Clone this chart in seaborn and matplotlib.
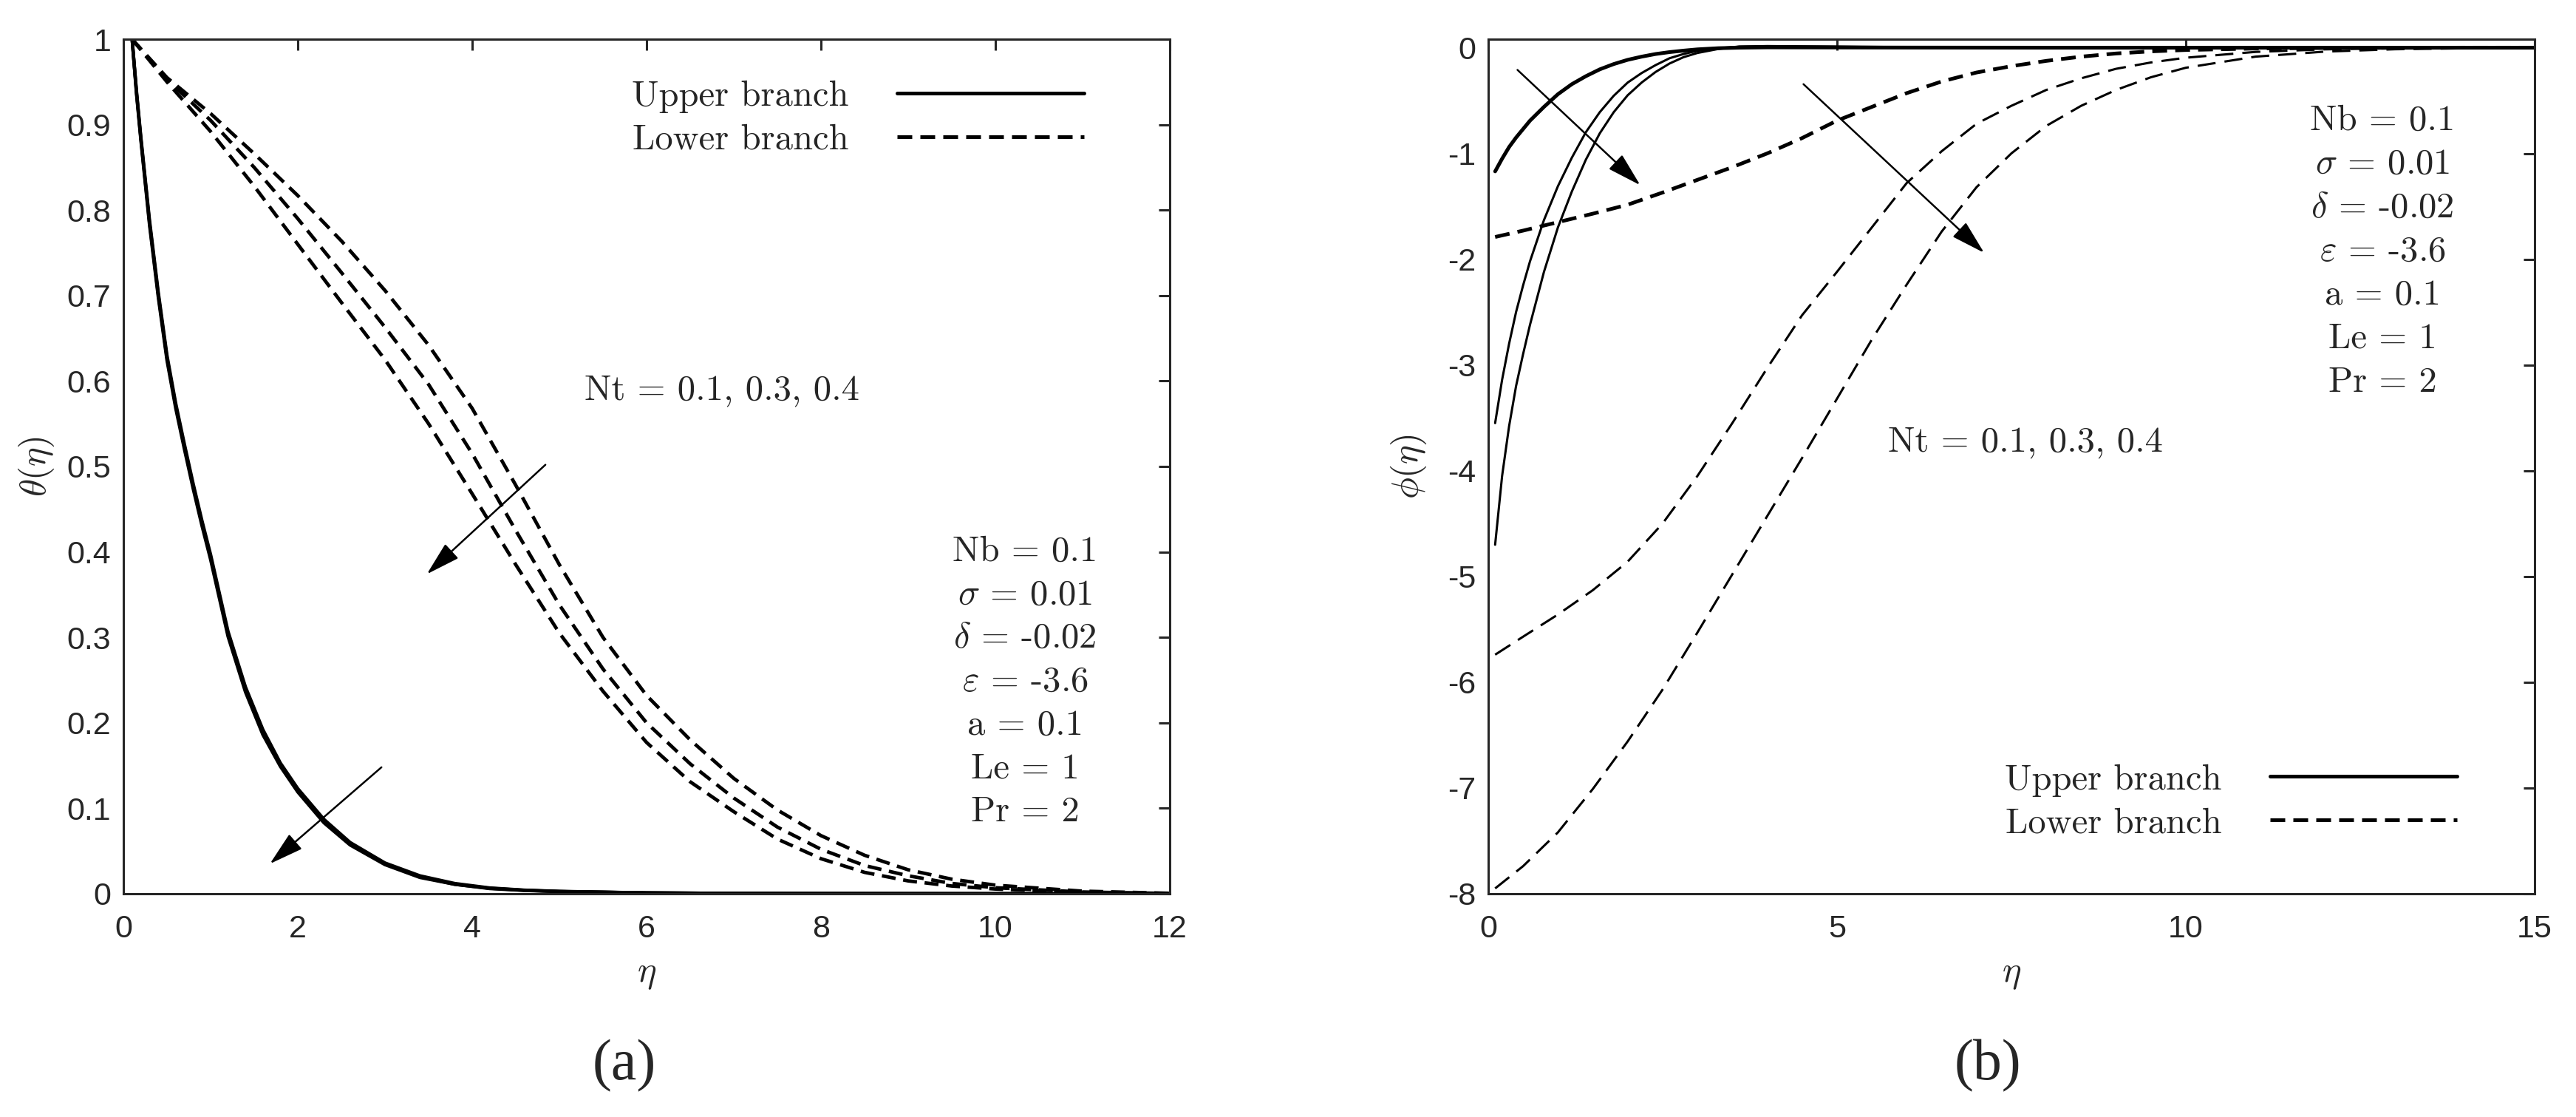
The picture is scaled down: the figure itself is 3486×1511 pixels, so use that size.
import numpy as np
import matplotlib
matplotlib.use('Agg')
import matplotlib.pyplot as plt
import seaborn as sns
from matplotlib.lines import Line2D

# ---------------- data ----------------
# (a) temperature profile theta(eta), three Nt values per branch
eta_a_upper = [0.1, 0.15, 0.2, 0.3, 0.4, 0.5, 0.6, 0.7, 0.8, 0.9, 1.0, 1.2, 1.4, 1.6, 1.8,
               2.0, 2.3, 2.6, 3.0, 3.4, 3.8, 4.2, 4.6, 5.0, 6.0, 7.0, 8.0, 10.0, 12.0]
theta_upper_nt01 = [1.0, 0.940, 0.886, 0.788, 0.704, 0.630, 0.574, 0.526, 0.480, 0.437, 0.397,
                    0.307, 0.242, 0.192, 0.153, 0.123, 0.087, 0.060, 0.036, 0.021, 0.012,
                    0.0068, 0.0042, 0.0028, 0.001, 0.0004, 0.0002, 0.0, 0.0]
theta_upper_nt03 = [1.0, 0.938, 0.884, 0.785, 0.701, 0.627, 0.571, 0.523, 0.477, 0.434, 0.394,
                    0.304, 0.239, 0.189, 0.151, 0.121, 0.085, 0.059, 0.035, 0.020, 0.011,
                    0.0064, 0.004, 0.0026, 0.001, 0.0004, 0.0002, 0.0, 0.0]
theta_upper_nt04 = [1.0, 0.936, 0.882, 0.782, 0.698, 0.624, 0.568, 0.520, 0.474, 0.431, 0.391,
                    0.301, 0.236, 0.186, 0.149, 0.119, 0.083, 0.057, 0.034, 0.019, 0.011,
                    0.006, 0.0038, 0.0025, 0.001, 0.0004, 0.0002, 0.0, 0.0]

eta_a_lower = [0.1, 0.5, 1.0, 1.5, 2.0, 2.5, 3.0, 3.5, 4.0, 4.5, 5.0, 5.5, 6.0, 6.5,
               7.0, 7.5, 8.0, 8.5, 9.0, 9.5, 10.0, 11.0, 12.0]
theta_lower_nt01 = [1.0, 0.955, 0.913, 0.866, 0.817, 0.764, 0.706, 0.642, 0.568, 0.478, 0.385,
                    0.300, 0.232, 0.180, 0.135, 0.098, 0.068, 0.045, 0.028, 0.017, 0.010,
                    0.003, 0.0005]
theta_lower_nt03 = [1.0, 0.953, 0.905, 0.850, 0.790, 0.727, 0.663, 0.596, 0.515, 0.425, 0.338,
                    0.263, 0.200, 0.152, 0.112, 0.078, 0.052, 0.033, 0.021, 0.012, 0.007,
                    0.002, 0.0003]
theta_lower_nt04 = [1.0, 0.950, 0.892, 0.828, 0.760, 0.692, 0.625, 0.550, 0.468, 0.385, 0.305,
                    0.237, 0.177, 0.131, 0.096, 0.064, 0.041, 0.025, 0.015, 0.009, 0.0055,
                    0.0015, 0.0002]

# (b) concentration profile phi(eta)
eta_b_upper = [0.1, 0.2, 0.3, 0.4, 0.5, 0.6, 0.8, 1.0, 1.2, 1.4, 1.6, 1.8, 2.0, 2.2,
               2.4, 2.6, 2.8, 3.0, 3.3, 3.6, 4.0, 5.0, 6.0, 8.0, 10.0, 15.0]
phi_upper_nt01 = [-1.17, -1.05, -0.94, -0.85, -0.77, -0.69, -0.56, -0.44, -0.345, -0.27,
                  -0.205, -0.155, -0.115, -0.085, -0.06, -0.042, -0.028, -0.016, -0.005,
                  0.0, 0.003, 0.002, 0.001, 0.0, 0.0, 0.0]
phi_upper_nt03 = [-3.55, -3.14, -2.80, -2.50, -2.25, -2.02, -1.63, -1.31, -1.04, -0.80,
                  -0.61, -0.455, -0.33, -0.24, -0.165, -0.10, -0.06, -0.03, -0.005, 0.01,
                  0.012, 0.008, 0.004, 0.001, 0.0, 0.0]
phi_upper_nt04 = [-4.70, -4.05, -3.58, -3.20, -2.90, -2.62, -2.12, -1.70, -1.36, -1.06,
                  -0.81, -0.61, -0.45, -0.33, -0.23, -0.15, -0.09, -0.05, -0.012, 0.01,
                  0.015, 0.01, 0.005, 0.001, 0.0, 0.0]

eta_b_lower = [0.1, 0.5, 1.0, 1.5, 2.0, 2.5, 3.0, 3.5, 4.0, 4.5, 5.0, 5.5, 6.0, 6.5,
               7.0, 7.5, 8.0, 8.5, 9.0, 9.5, 10.0, 11.0, 12.0, 13.0, 14.0, 15.0]
phi_lower_nt01 = [-1.79, -1.73, -1.65, -1.57, -1.485, -1.37, -1.25, -1.13, -1.0, -0.855,
                  -0.69, -0.56, -0.43, -0.32, -0.235, -0.175, -0.125, -0.085, -0.055,
                  -0.035, -0.022, -0.008, -0.003, -0.001, 0.0, 0.0]
phi_lower_nt03 = [-5.74, -5.57, -5.36, -5.13, -4.86, -4.50, -4.05, -3.55, -3.03, -2.53,
                  -2.12, -1.70, -1.28, -0.98, -0.72, -0.55, -0.40, -0.29, -0.20, -0.14,
                  -0.095, -0.04, -0.016, -0.006, -0.002, 0.0]
phi_lower_nt04 = [-7.95, -7.74, -7.42, -7.01, -6.56, -6.07, -5.53, -4.98, -4.43, -3.88,
                  -3.32, -2.76, -2.24, -1.74, -1.32, -1.00, -0.74, -0.55, -0.40, -0.28,
                  -0.19, -0.085, -0.037, -0.015, -0.006, -0.002]

x_ticks_a = [0, 2, 4, 6, 8, 10, 12]
y_ticks_a = [0, 0.1, 0.2, 0.3, 0.4, 0.5, 0.6, 0.7, 0.8, 0.9, 1.0]
y_tick_labels_a = ['0', '0.1', '0.2', '0.3', '0.4', '0.5', '0.6', '0.7', '0.8', '0.9', '1']
x_ticks_b = [0, 5, 10, 15]
y_ticks_b = [-8, -7, -6, -5, -4, -3, -2, -1, 0]
y_tick_labels_b = ['-8', '-7', '-6', '-5', '-4', '-3', '-2', '-1', '0']

branch_labels = ['Upper branch', 'Lower branch']
nt_label = 'Nt = 0.1, 0.3, 0.4'
param_labels = ['Nb = 0.1', r'$\sigma$ = 0.01', r'$\delta$ = -0.02', r'$\varepsilon$ = -3.6',
                'a = 0.1', 'Le = 1', 'Pr = 2']

# annotation placement (data coords)
arrows_a = [((4.84, 0.502), (3.48, 0.374)), ((2.96, 0.148), (1.68, 0.035))]
arrows_b = [((0.42, -0.21), (2.18, -1.30)), ((4.52, -0.345), (7.11, -1.94))]

# ---------------- style ----------------
sns.set_theme(style='white')
plt.rcParams['font.family'] = ['Liberation Sans', 'DejaVu Sans']
plt.rcParams['mathtext.fontset'] = 'cm'
plt.rcParams['axes.unicode_minus'] = False

AX_COL = '#262626'
TXT = 17.5
DASH_THICK = (0, (4, 2.2))
DASH_THIN = (0, (8, 4))

fig = plt.figure(figsize=(17.43, 7.555), dpi=200)
ax_a = fig.add_axes([0.0479, 0.1999, 0.4062, 0.7650])
ax_b = fig.add_axes([0.5777, 0.1999, 0.4062, 0.7650])


def style_axes(ax):
    for s in ax.spines.values():
        s.set_visible(True)
        s.set_color(AX_COL)
        s.set_linewidth(1.1)
    ax.tick_params(direction='in', top=True, right=True, length=5.4, width=1.1,
                   color=AX_COL, labelcolor=AX_COL, labelsize=15.5)
    ax.tick_params(axis='x', pad=10)
    ax.tick_params(axis='y', pad=6)
    ax.grid(False)


def curve(ax, x, y, lw, ls='-'):
    sns.lineplot(x=x, y=y, ax=ax, color='black', lw=lw, linestyle=ls,
                 sort=False, estimator=None)


def arrow(ax, tail, head):
    ax.annotate('', xy=head, xytext=tail,
                arrowprops=dict(arrowstyle='-|>,head_length=0.6,head_width=0.17',
                                mutation_scale=24, color='black', lw=0.9,
                                shrinkA=0, shrinkB=0))


def legend(ax, anchor):
    handles = [Line2D([], [], color='black', lw=1.8),
               Line2D([], [], color='black', lw=1.8, linestyle=DASH_THICK)]
    ax.legend(handles, branch_labels, markerfirst=False, frameon=False,
              loc='upper right', bbox_to_anchor=anchor, borderpad=0, borderaxespad=0,
              handlelength=5.2, handletextpad=1.35, labelspacing=0.3,
              prop={'family': 'cmr10', 'size': TXT})


def params(ax, x, y0, dy):
    for i, lab in enumerate(param_labels):
        ax.text(x, y0 - i * dy, lab, ha='center', va='center', fontsize=TXT,
                family='cmr10')


# ---------------- (a) ----------------
for th in [theta_upper_nt01, theta_upper_nt03, theta_upper_nt04]:
    curve(ax_a, eta_a_upper, th, 1.6)
for th in [theta_lower_nt01, theta_lower_nt03, theta_lower_nt04]:
    curve(ax_a, eta_a_lower, th, 1.7, DASH_THICK)

ax_a.set_xlim(0, 12)
ax_a.set_ylim(0, 1)
ax_a.set_xticks(x_ticks_a)
ax_a.set_xticklabels([str(t) for t in x_ticks_a])
ax_a.set_yticks(y_ticks_a)
ax_a.set_yticklabels(y_tick_labels_a)
style_axes(ax_a)
ax_a.set_xlabel(r'$\eta$', fontsize=TXT, color=AX_COL)
ax_a.set_ylabel(r'$\theta(\eta)$', fontsize=TXT, color=AX_COL)
ax_a.xaxis.set_label_coords(0.5, -0.075)
ax_a.yaxis.set_label_coords(-0.064, 0.5)

for tail, head in arrows_a:
    arrow(ax_a, tail, head)
ax_a.text(6.86, 0.589, nt_label, ha='center', va='center', fontsize=TXT, family='cmr10')
params(ax_a, 10.34, 0.40, 0.0508)
legend(ax_a, (0.918, 0.952))

# ---------------- (b) ----------------
curve(ax_b, eta_b_upper, phi_upper_nt01, 1.8)
curve(ax_b, eta_b_upper, phi_upper_nt03, 1.1)
curve(ax_b, eta_b_upper, phi_upper_nt04, 1.1)
curve(ax_b, eta_b_lower, phi_lower_nt01, 1.8, DASH_THICK)
curve(ax_b, eta_b_lower, phi_lower_nt03, 1.1, DASH_THIN)
curve(ax_b, eta_b_lower, phi_lower_nt04, 1.1, DASH_THIN)

ax_b.set_xlim(0, 15)
ax_b.set_ylim(-8, 0.08)
ax_b.set_xticks(x_ticks_b)
ax_b.set_xticklabels([str(t) for t in x_ticks_b])
ax_b.set_yticks(y_ticks_b)
ax_b.set_yticklabels(y_tick_labels_b)
style_axes(ax_b)
ax_b.set_xlabel(r'$\eta$', fontsize=TXT, color=AX_COL)
ax_b.set_ylabel(r'$\phi(\eta)$', fontsize=TXT, color=AX_COL)
ax_b.xaxis.set_label_coords(0.5, -0.075)
ax_b.yaxis.set_label_coords(-0.057, 0.5)

for tail, head in arrows_b:
    arrow(ax_b, tail, head)
ax_b.text(7.7, -3.73, nt_label, ha='center', va='center', fontsize=TXT, family='cmr10')
params(ax_b, 12.82, -0.69, 0.413)
legend(ax_b, (0.926, 0.152))

# panel captions
fig.text(0.2424, 0.0457, '(a)', ha='center', va='center', fontsize=28,
         family=['Liberation Serif', 'DejaVu Serif'])
fig.text(0.7717, 0.0457, '(b)', ha='center', va='center', fontsize=28,
         family=['Liberation Serif', 'DejaVu Serif'])

fig.savefig('out.png', dpi=200)
